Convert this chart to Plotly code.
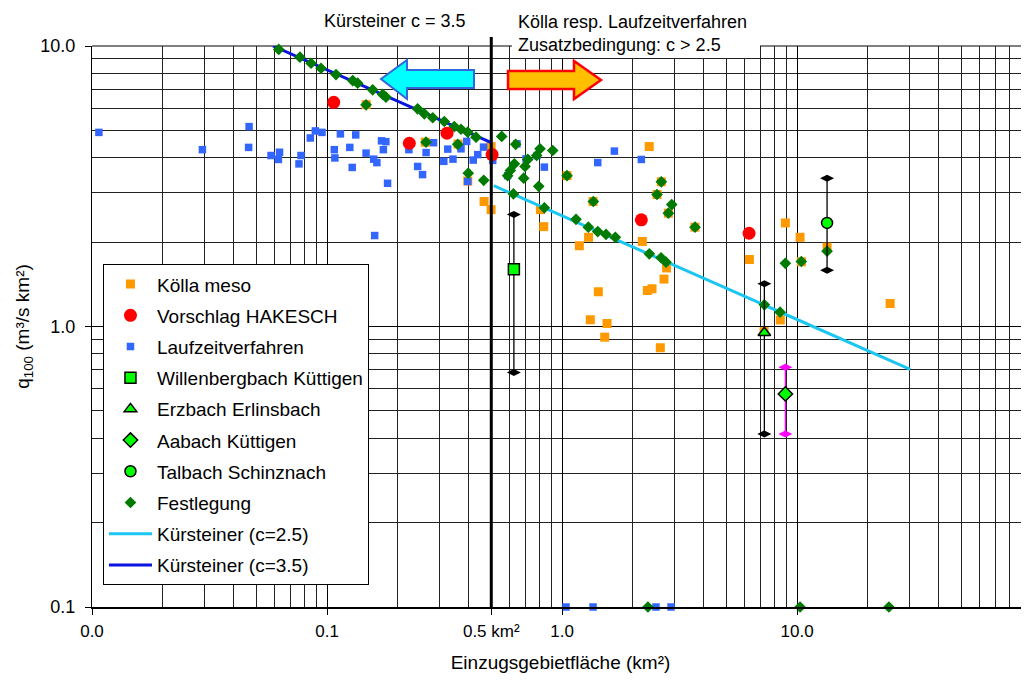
import plotly.graph_objects as go

# ---------------- data ----------------
koella_x = [2.35, 1.05, 0.466, 0.499, 0.809, 0.836, 1.297, 1.185, 2.196, 2.785, 2.716, 2.307,
            2.415, 1.427, 1.319, 1.554, 1.519, 2.62, 1.355, 2.536, 2.646, 2.834, 3.68, 6.27,
            7.24, 8.49, 8.92, 10.3, 13.42, 10.43, 24.9, 0.1468, 0.262, 0.361, 0.397, 0.499]
koella_y = [4.38, 3.45, 2.79, 2.61, 2.61, 2.27, 2.08, 1.94, 2.01, 1.617, 1.476, 1.344,
            1.363, 1.33, 1.057, 1.025, 0.916, 0.84, 2.79, 2.955, 3.28, 2.535, 2.26, 1.733,
            0.96, 1.055, 2.34, 2.08, 1.918, 1.701, 1.208, 6.18, 4.54, 4.47, 3.30, 4.38]

hakesch_x = [0.1068, 0.224, 0.324, 0.504, 2.175, 6.25]
hakesch_y = [6.30, 4.50, 4.89, 4.10, 2.40, 2.15]

laufzeit_x = [0.0107, 0.0295, 0.0466, 0.0464, 0.0578, 0.0628, 0.0621, 0.0775, 0.076, 0.0849,
              0.0892, 0.0952, 0.114, 0.1074, 0.108, 0.125, 0.1325, 0.128, 0.1466, 0.158,
              0.163, 0.1706, 0.178, 0.1737, 0.181, 0.223, 0.243, 0.255, 0.264, 0.284,
              0.314, 0.3265, 0.3435, 0.3717, 0.393, 0.419, 0.438, 0.4635, 0.507, 0.397,
              0.643, 0.703, 0.841, 0.587, 0.783, 1.419, 1.67, 2.175, 0.1595,
              1.04, 1.355, 2.51, 2.91]
laufzeit_y = [4.92, 4.27, 5.16, 4.35, 4.07, 4.18, 3.94, 4.07, 3.80, 4.70,
              4.98, 4.92, 4.86, 4.27, 3.99, 4.35, 4.82, 3.69, 4.15, 3.95,
              3.84, 4.59, 4.56, 4.27, 3.24, 4.27, 3.72, 3.48, 4.17, 4.52,
              3.88, 4.29, 3.95, 4.30, 4.57, 3.92, 4.10, 4.36, 3.91, 3.29,
              4.48, 3.96, 3.70, 3.45, 4.07, 3.84, 4.22, 3.94, 2.11,
              0.1, 0.1, 0.1, 0.1]

festlegung_x = [0.0623, 0.0767, 0.0855, 0.0943, 0.1092, 0.1286, 0.135, 0.1564, 0.1726, 0.1782,
                0.243, 0.2595, 0.2817, 0.3156, 0.348, 0.3716, 0.397, 0.4306,
                0.1466, 0.2638, 0.36, 0.399, 0.4643,
                0.5538, 0.635, 0.806, 0.913, 0.78, 0.7145, 0.627, 0.696, 0.6026, 0.587,
                0.687, 0.796, 0.621, 0.841, 1.05, 1.359, 1.147, 1.294, 1.419, 1.539, 1.686,
                2.352, 2.638, 2.771, 2.646, 2.536, 2.93, 2.834, 3.68, 7.26, 8.47,
                8.92, 10.43, 13.42, 2.32, 10.3, 24.6]
festlegung_y = [9.72, 9.12, 8.68, 8.33, 7.91, 7.53, 7.37, 6.98, 6.72, 6.57,
                5.97, 5.73, 5.55, 5.38, 5.16, 5.05, 4.93, 4.73,
                6.17, 4.54, 4.46, 3.52, 3.32,
                4.76, 4.46, 4.30, 4.24, 4.07, 3.94, 3.80, 3.72, 3.60, 3.45,
                3.38, 3.16, 2.97, 2.65, 3.45, 2.79, 2.41, 2.26, 2.18, 2.13, 2.08,
                1.816, 1.758, 1.695, 3.28, 2.955, 2.72, 2.535, 2.26, 1.195, 1.125,
                1.68, 1.705, 1.856, 0.1, 0.1, 0.1]

# single sites: value and range (high / low)
sites = ["Willenbergbach Küttigen", "Erzbach Erlinsbach", "Aabach Küttigen", "Talbach Schinznach"]
site_x = [0.624, 7.26, 8.92, 13.42]
site_y = [1.60, 0.95, 0.575, 2.34]
site_hi = [2.51, 1.42, 0.716, 3.38]
site_lo = [0.686, 0.414, 0.414, 1.588]

kurst25_x = [0.512, 30.3]
kurst25_y = [3.18, 0.703]
kurst35_x = [0.0589, 0.5]
kurst35_y = [10.0, 4.52]

limit_area = 0.5  # km²

x_tickvals = [0.01, 0.1, 0.5, 1, 10]
x_ticktext = ["0.0", "0.1", "0.5 km²", "1.0", "10.0"]
y_tickvals = [0.1, 1, 10]
y_ticktext = ["0.1", "1.0", "10.0"]

# ---------------- figure ----------------
FONT = "Arial, Liberation Sans, sans-serif"
fig = go.Figure()

def rank(i):
    return 100 + i * 10

fig.add_trace(go.Scatter(x=koella_x, y=koella_y, mode="markers", name="Kölla meso",
                         marker=dict(symbol="square", size=9, color="#FF9900"),
                         legendrank=rank(0), legendgroup="g0", cliponaxis=False))
fig.add_trace(go.Scatter(x=laufzeit_x, y=laufzeit_y, mode="markers", name="Laufzeitverfahren",
                         marker=dict(symbol="square", size=7.5, color="#3366FF"),
                         legendrank=rank(2), legendgroup="g2", cliponaxis=False))
fig.add_trace(go.Scatter(x=kurst25_x, y=kurst25_y, mode="lines", name="Kürsteiner (c=2.5)",
                         line=dict(color="#1CC6F2", width=3), legendrank=rank(8), legendgroup="g8"))
fig.add_trace(go.Scatter(x=kurst35_x, y=kurst35_y, mode="lines", name="Kürsteiner (c=3.5)",
                         line=dict(color="#0A14E0", width=3), legendrank=rank(9), legendgroup="g9"))
fig.add_trace(go.Scatter(x=festlegung_x, y=festlegung_y, mode="markers", name="Festlegung",
                         marker=dict(symbol="diamond", size=9, color="#007A00"),
                         legendrank=rank(7), legendgroup="g7", cliponaxis=False))
fig.add_trace(go.Scatter(x=hakesch_x, y=hakesch_y, mode="markers", name="Vorschlag HAKESCH",
                         marker=dict(symbol="circle", size=13, color="#FF0000"),
                         legendrank=rank(1), legendgroup="g1"))

site_symbols = ["square", "triangle-up", "diamond", "circle"]
bar_colors = ["black", "black", "#FF00FF", "black"]
for i, name in enumerate(sites):
    fig.add_trace(go.Scatter(x=[site_x[i], site_x[i]], y=[site_lo[i], site_hi[i]],
                             mode="lines+markers", showlegend=False, hoverinfo="skip",
                             line=dict(color=bar_colors[i], width=1.3),
                             marker=dict(symbol="diamond-wide", size=10, color=bar_colors[i])))
    fig.add_trace(go.Scatter(x=[site_x[i]], y=[site_y[i]], mode="markers", name=name,
                             marker=dict(symbol=site_symbols[i], size=11, color="#00FF00",
                                         line=dict(color="black", width=1.5)),
                             legendrank=rank(3 + i), legendgroup="s%d" % i))

minor_x = [m * 10 ** e for e in (-2, -1, 0, 1) for m in range(2, 10)]
minor_y = [m * 10 ** e for e in (-1, 0) for m in range(2, 10)]

fig.update_xaxes(type="log", range=[-2, 1.987], tickmode="array", tickvals=x_tickvals,
                 ticktext=x_ticktext, ticks="outside", ticklen=6, tickcolor="black",
                 showgrid=True, gridcolor="black", gridwidth=1,
                 minor=dict(tickmode="array", tickvals=minor_x, showgrid=True,
                            gridcolor="#222222", gridwidth=1, ticks=""),
                 showline=True, linecolor="black", linewidth=2, automargin=False,
                 tickfont=dict(family=FONT, size=17, color="black"), ticklabelstandoff=2,
                 title=dict(text="Einzugsgebietfläche (km²)", standoff=15,
                            font=dict(family=FONT, size=19, color="black")),
                 zeroline=False)
fig.update_yaxes(type="log", range=[-1, 1], tickmode="array", tickvals=y_tickvals,
                 ticktext=y_ticktext, ticks="outside", ticklen=6, tickcolor="black",
                 showgrid=True, gridcolor="black", gridwidth=1,
                 minor=dict(tickmode="array", tickvals=minor_y, showgrid=True,
                            gridcolor="#222222", gridwidth=1, ticks=""),
                 showline=True, linecolor="black", linewidth=1, automargin=False,
                 tickfont=dict(family=FONT, size=18, color="black"), ticklabelstandoff=6,
                 title=dict(text="q<sub>100</sub> (m³/s km²)", standoff=5,
                            font=dict(family=FONT, size=19, color="black")),
                 zeroline=False)

# thick limit line at 0.5 km², top border
fig.add_shape(type="line", xref="x", yref="paper", x0=limit_area, x1=limit_area, y0=0, y1=1.016,
              line=dict(color="black", width=3), layer="above")
fig.add_shape(type="line", xref="paper", yref="paper", x0=0, x1=1, y0=1, y1=1,
              line=dict(color="black", width=1), layer="below")
# white box behind the right-hand heading
fig.add_shape(type="rect", xref="paper", yref="paper", x0=0.4482, x1=0.7129, y0=0.9786, y1=1.03,
              fillcolor="white", line=dict(width=0), layer="above")

# arrows
fig.add_shape(type="path", xref="paper", yref="paper",
              path="M 0.3084 0.9412 L 0.3362 0.9750 L 0.3362 0.9572 L 0.4077 0.9572 "
                   "L 0.4077 0.9251 L 0.3362 0.9251 L 0.3362 0.9055 Z",
              fillcolor="#00FFFF", line=dict(color="#3366DD", width=2), layer="above")
fig.add_shape(type="path", xref="paper", yref="paper",
              path="M 0.5432 0.9394 L 0.5144 0.9733 L 0.5144 0.9554 L 0.4440 0.9554 "
                   "L 0.4440 0.9234 L 0.5144 0.9234 L 0.5144 0.9055 Z",
              fillcolor="#FFC000", line=dict(color="#FF0000", width=2.5), layer="above")

fig.add_annotation(xref="paper", yref="paper", x=0.323, y=1.045, xanchor="center", yanchor="middle",
                   text="Kürsteiner c = 3.5", showarrow=False,
                   font=dict(family=FONT, size=18, color="black"))
fig.add_annotation(xref="paper", yref="paper", x=0.4525, y=1.064, xanchor="left", yanchor="top",
                   text="Kölla resp. Laufzeitverfahren<br>Zusatzbedingung: c > 2.5", align="left",
                   showarrow=False, font=dict(family=FONT, size=18, color="black"))

# the page adds an 8 px body margin, so the figure is 8 px smaller and the margins shift
fig.update_layout(
    width=1021, height=674,
    margin=dict(l=84, r=0, t=38, b=75, autoexpand=False),
    paper_bgcolor="white", plot_bgcolor="white",
    font=dict(family=FONT, color="black"),
    showlegend=True,
    legend=dict(x=0.0117, y=0.611, xanchor="left", yanchor="top",
                bgcolor="white", bordercolor="black", borderwidth=1,
                font=dict(family=FONT, size=19, color="black"),
                traceorder="grouped", tracegroupgap=3.5, itemwidth=43),
)

fig.write_html("out.html")
